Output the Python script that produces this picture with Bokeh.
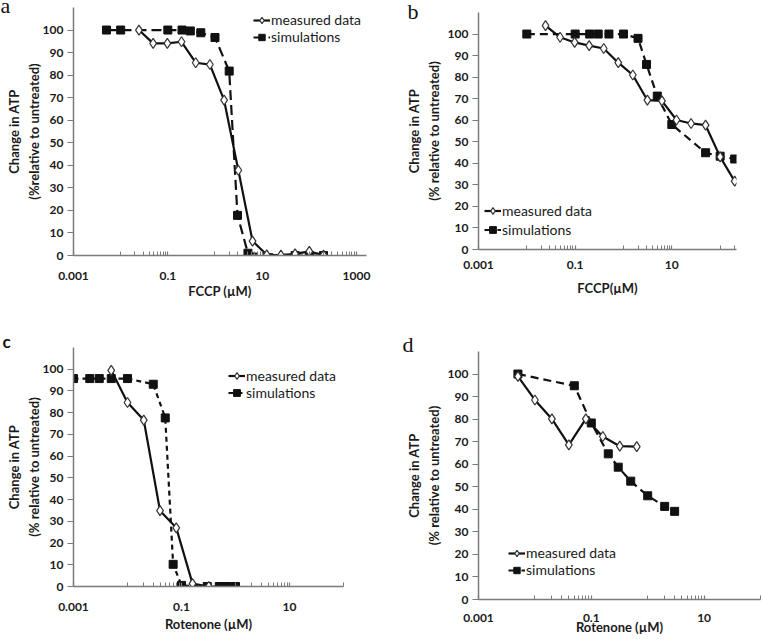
import math
from bokeh.plotting import figure
from bokeh.layouts import column, row
from bokeh.models import FixedTicker, Legend, LegendItem, Range1d
from bokeh.embed import file_html
from bokeh.resources import INLINE

# ---------------- data ----------------
a_meas_x = [0.0244, 0.0488, 0.0977, 0.195, 0.39, 0.78, 1.56, 3.125, 6.25, 12.5, 25, 50, 100, 200]
a_meas_y = [100, 94.1, 94.1, 94.8, 85.5, 84.7, 68.9, 37.8, 6.4, 0.3, 0.2, 0.7, 1.8, 0.2]
a_sim_x = [0.005, 0.01, 0.1, 0.2, 0.3, 0.5, 1, 2, 3, 5, 50, 100, 200]
a_sim_y = [100, 100, 100, 100, 99.6, 98.8, 96.7, 81.8, 17.8, 1.0, 0, 0, 0]

b_meas_x = [0.0244, 0.0488, 0.0977, 0.195, 0.39, 0.78, 1.56, 3.125, 6.25, 12.5, 25, 50, 100, 200]
b_meas_y = [103.9, 98.5, 96.1, 94.6, 93.3, 86.7, 81.0, 69.3, 69.0, 60.1, 58.5, 57.7, 43.0, 31.7]
b_sim_x = [0.01, 0.1, 0.2, 0.3, 0.5, 1, 2, 3, 5, 10, 50, 100, 200]
b_sim_y = [100, 100, 100, 100, 100, 100, 98.0, 85.9, 71.2, 58.0, 44.9, 43.3, 42.0]

c_meas_x = [0.005, 0.01, 0.02, 0.04, 0.08, 0.16, 0.32]
c_meas_y = [99.5, 84.7, 76.6, 34.9, 27.0, 1.3, 0]
c_sim_x = [0.001, 0.002, 0.003, 0.005, 0.01, 0.03, 0.05, 0.07, 0.1, 0.3, 0.5, 0.7, 1]
c_sim_y = [95.7, 95.7, 95.7, 95.7, 95.7, 93.1, 77.6, 10.2, 0.5, 0, 0, 0, 0]

d_meas_x = [0.005, 0.01, 0.02, 0.04, 0.08, 0.16, 0.32, 0.64]
d_meas_y = [99.0, 88.5, 80.1, 68.6, 80.1, 72.3, 68.0, 67.8]
d_sim_x = [0.005, 0.05, 0.1, 0.2, 0.3, 0.5, 1, 2, 3]
d_sim_y = [100, 94.8, 78.3, 64.6, 58.7, 52.5, 46.0, 41.3, 39.1]

y_ticks = [0, 10, 20, 30, 40, 50, 60, 70, 80, 90, 100]
x_major_ticks = [0.001, 0.1, 10, 1000]
x_major_labels = ["0.001", "0.1", "10", "1000"]
minor_multipliers = [1, 2, 3, 4, 5, 6, 7, 8, 9]
minor_decades = [0.01, 1, 100]

series_labels = ["measured data", "simulations"]
y_titles = ["Change in ATP\n(%relative to untreated)",
            "Change in ATP\n(% relative to untreated)",
            "Change in ATP\n(% relative to untreated)",
            "Change in ATP\n(% relative to untreated)"]
x_titles = ["FCCP (µM)", "FCCP(µM)", "Rotenone (µM)", "Rotenone (µM)"]
panel_letters = ["a", "b", "c", "d"]

# ---------------- style ----------------
FONT = "Lato"
SERIF = "Liberation Serif"
TXT = "#1a1a1a"
AXC = "#7a7a7a"
x_minor = [m * d for d in minor_decades for m in minor_multipliers]


def make_panel(s, mx, my, sx, sy, ytitle, xtitle, letter):
    p = figure(width=s["W"], height=s["H"], x_axis_type="log",
               x_range=Range1d(*s["xr"]), y_range=Range1d(0, s["ytop"]),
               output_backend="svg", toolbar_location=None,
               min_border_left=s["bl"], min_border_right=s["br"],
               min_border_top=s["bt"], min_border_bottom=s["bb"])
    try:
        p.frame_align = False
    except Exception:
        pass
    p.outline_line_color = None
    p.xgrid.visible = False
    p.ygrid.visible = False
    p.background_fill_color = "white"
    p.border_fill_color = "white"

    # panel letter as the plot title
    p.title.text = letter
    p.title.align = "left"
    p.title.vertical_align = s["letva"]
    p.title.offset = s["letoff"]
    p.title.standoff = s["letstand"]
    p.title.text_font = s["letfont"]
    p.title.text_font_style = s["letstyle"]
    p.title.text_font_size = s["letsize"]
    p.title.text_color = "#111111"

    # axes
    p.xaxis.ticker = FixedTicker(ticks=x_major_ticks, minor_ticks=x_minor)
    p.xaxis.major_label_overrides = dict(zip(x_major_ticks, x_major_labels))
    p.yaxis.ticker = FixedTicker(ticks=y_ticks)
    for ax in (p.xaxis, p.yaxis):
        ax.axis_line_color = AXC
        ax.axis_line_width = 1.5
        ax.major_tick_line_color = AXC
        ax.minor_tick_line_color = AXC
        ax.major_tick_line_width = 1.2
        ax.minor_tick_line_width = 1.0
        ax.major_label_text_font = FONT
        ax.major_label_text_font_style = "bold"
        ax.major_label_text_font_size = "12px"
        ax.major_label_text_color = TXT
        ax.axis_label_text_font = FONT
        ax.axis_label_text_font_style = "bold"
        ax.axis_label_text_font_size = "13px"
        ax.axis_label_text_color = TXT
    p.xaxis.major_tick_in = 4
    p.xaxis.major_tick_out = 0
    p.xaxis.minor_tick_in = 4
    p.xaxis.minor_tick_out = 0
    p.xaxis.major_label_standoff = s["xstand"]
    p.xaxis.axis_label = xtitle
    p.xaxis.axis_label_standoff = s["xtstand"]
    p.yaxis.major_tick_in = 0
    p.yaxis.major_tick_out = 6
    p.yaxis.minor_tick_in = 0
    p.yaxis.minor_tick_out = 0
    p.yaxis.major_label_standoff = 4
    p.yaxis.axis_label = ytitle
    p.yaxis.axis_label_standoff = s["ytstand"]

    # data
    l1 = p.line(mx, my, line_color="#111111", line_width=2.2)
    l2 = p.line(sx, sy, line_color="#111111", line_width=2.2, line_dash=s["dash"])
    m2 = p.scatter(sx, sy, marker="square", size=8, fill_color="#111111", line_color="#111111")
    m1 = p.scatter(mx, my, marker="diamond", size=10, fill_color="white",
                   line_color="#333333", line_width=1.2)

    leg = Legend(items=[LegendItem(label=series_labels[0], renderers=[l1, m1]),
                        LegendItem(label=series_labels[1], renderers=[l2, m2])],
                 location=s["legloc"], orientation="vertical",
                 glyph_width=17, glyph_height=s["legh"], label_height=s["legh"],
                 label_standoff=1, spacing=0, padding=0, margin=0,
                 border_line_alpha=0, background_fill_alpha=0,
                 label_text_font=FONT, label_text_font_size="14px",
                 label_text_color=TXT)
    p.add_layout(leg)
    return p


spec_a = dict(W=380, H=310, bl=73, br=14, bt=7, bb=55, xr=(0.001, 1630), ytop=110,
              xstand=16, xtstand=0, ytstand=-2, dash="10 5", legloc=(180, 210), legh=16,
              letva="top", letoff=-73, letstand=-25, letfont=SERIF, letstyle="normal",
              letsize="22px")
spec_b = dict(W=381, H=310, bl=98, br=25, bt=12, bb=61, xr=(0.001, 218), ytop=110,
              xstand=11, xtstand=8, ytstand=3, dash="8 5", legloc=(6, 10), legh=19,
              letva="middle", letoff=-71, letstand=-24, letfont=SERIF, letstyle="normal",
              letsize="22px")
spec_c = dict(W=380, H=329, bl=73, br=37, bt=37, bb=53, xr=(0.001, 100), ytop=110,
              xstand=16, xtstand=2, ytstand=-2, dash="5 4", legloc=(155, 185), legh=17,
              letva="middle", letoff=-71, letstand=-11, letfont=FONT, letstyle="bold",
              letsize="17px")
spec_d = dict(W=381, H=329, bl=98, br=1, bt=41, bb=40, xr=(0.001, 100), ytop=110,
              xstand=14, xtstand=-6, ytstand=3, dash="8 5", legloc=(30, 21), legh=16,
              letva="middle", letoff=-76, letstand=-12, letfont=SERIF, letstyle="normal",
              letsize="22px")

pa = make_panel(spec_a, a_meas_x, a_meas_y, a_sim_x, a_sim_y, y_titles[0], x_titles[0], panel_letters[0])
pb = make_panel(spec_b, b_meas_x, b_meas_y, b_sim_x, b_sim_y, y_titles[1], x_titles[1], panel_letters[1])
pc = make_panel(spec_c, c_meas_x, c_meas_y, c_sim_x, c_sim_y, y_titles[2], x_titles[2], panel_letters[2])
pd = make_panel(spec_d, d_meas_x, d_meas_y, d_sim_x, d_sim_y, y_titles[3], x_titles[3], panel_letters[3])

layout = column(row(pa, pb, spacing=0), row(pc, pd, spacing=0), spacing=0)
open("out.html", "w").write(file_html(layout, INLINE))
